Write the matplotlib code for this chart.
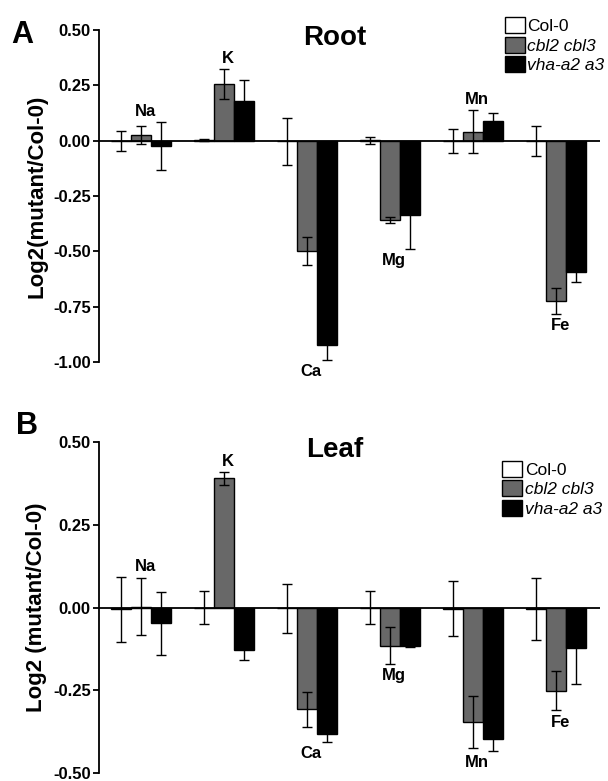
import matplotlib
matplotlib.use("Agg")
import matplotlib.pyplot as plt
import numpy as np

plt.rcParams['font.family'] = ['Liberation Sans', 'DejaVu Sans']

elements = ['Na', 'K', 'Ca', 'Mg', 'Mn', 'Fe']
genotypes = ['Col-0', 'cbl2 cbl3', 'vha-a2 a3']

# Root values (log2 mutant / Col-0) and errors
root_col0 = [0.0, 0.003, -0.003, 0.001, 0.0, -0.002]
root_col0_err = [0.045, 0.004, 0.105, 0.016, 0.054, 0.068]
root_cbl = [0.027, 0.258, -0.498, -0.357, 0.041, -0.724]
root_cbl_err = [0.040, 0.068, 0.063, 0.013, 0.097, 0.058]
root_vha = [-0.023, 0.181, -0.923, -0.335, 0.090, -0.593]
root_vha_err = [0.108, 0.095, 0.067, 0.154, 0.037, 0.045]

# Leaf values
leaf_col0 = [-0.005, 0.0, -0.002, 0.0, -0.003, -0.004]
leaf_col0_err = [0.098, 0.049, 0.074, 0.051, 0.082, 0.093]
leaf_cbl = [0.003, 0.390, -0.308, -0.115, -0.346, -0.251]
leaf_cbl_err = [0.087, 0.019, 0.053, 0.055, 0.078, 0.060]
leaf_vha = [-0.048, -0.128, -0.383, -0.115, -0.398, -0.121]
leaf_vha_err = [0.095, 0.030, 0.023, 0.005, 0.034, 0.110]

colors = ['white', '#686868', 'black']
width = 0.24


def draw_panel(ax, series, errs, ylim, yticks, title, ylabel):
    x = np.arange(len(elements))
    for j, (vals, err) in enumerate(zip(series, errs)):
        pos = x + (j - 1) * width
        ax.bar(pos, vals, width, color=colors[j], edgecolor='black',
               linewidth=1.0, label=genotypes[j], zorder=2)
        ax.errorbar(pos, vals, yerr=err, fmt='none', ecolor='black',
                    elinewidth=1.0, capsize=3.5, capthick=1.0, zorder=3)
    ax.axhline(0, color='black', linewidth=1.3, zorder=4)

    # element labels just beyond the extreme error bar of each group,
    # on the side the cbl2 cbl3 bar points to
    tops = np.max([np.array(v) + np.array(e) for v, e in zip(series, errs)], axis=0)
    bots = np.min([np.array(v) - np.array(e) for v, e in zip(series, errs)], axis=0)
    for i, el in enumerate(elements):
        if series[1][i] >= 0:
            ax.annotate(el, (i + 0.05, tops[i]), xytext=(0, 2),
                        textcoords='offset points', ha='center', va='bottom',
                        fontsize=12, fontweight='bold')
        else:
            ax.annotate(el, (i + 0.05, bots[i]), xytext=(0, -3),
                        textcoords='offset points', ha='center', va='top',
                        fontsize=12, fontweight='bold')

    ax.set_xlim(-0.506, 5.53)
    ax.set_ylim(*ylim)
    ax.set_yticks(yticks)
    ax.set_yticklabels(['%.2f' % t for t in yticks], fontsize=12, fontweight='bold')
    ax.set_xticks([])
    for s in ['top', 'right', 'bottom']:
        ax.spines[s].set_visible(False)
    ax.spines['left'].set_linewidth(1.3)
    ax.tick_params(axis='y', direction='out', length=4, width=1.3, pad=2)
    ax.set_ylabel(ylabel, fontsize=16, fontweight='bold', labelpad=4)
    ax.set_title(title, fontsize=20, fontweight='bold', x=0.47, y=0.93)


fig = plt.figure(figsize=(6.08, 7.81), dpi=100)
ax1 = fig.add_axes([0.163, 0.5365, 0.824, 0.4251])
ax2 = fig.add_axes([0.163, 0.0102, 0.824, 0.4238])

draw_panel(ax1, [root_col0, root_cbl, root_vha],
           [root_col0_err, root_cbl_err, root_vha_err],
           (-1.0, 0.5), [0.5, 0.25, 0.0, -0.25, -0.5, -0.75, -1.0],
           'Root', 'Log2(mutant/Col-0)')
draw_panel(ax2, [leaf_col0, leaf_cbl, leaf_vha],
           [leaf_col0_err, leaf_cbl_err, leaf_vha_err],
           (-0.5, 0.5), [0.5, 0.25, 0.0, -0.25, -0.5],
           'Leaf', 'Log2 (mutant/Col-0)')

for ax, anchor in [(ax1, (0.830, 0.978)), (ax2, (0.826, 0.410))]:
    leg = ax.legend(loc='upper left', bbox_to_anchor=anchor,
                    bbox_transform=fig.transFigure, frameon=False,
                    fontsize=12.5, handlelength=1.15, handleheight=1.05,
                    handletextpad=0.15, labelspacing=0.14, borderpad=0,
                    borderaxespad=0)
    for k, t in enumerate(leg.get_texts()):
        if k > 0:
            t.set_style('italic')

fig.text(0.018, 0.955, 'A', fontsize=22, fontweight='bold', va='center')
fig.text(0.027, 0.455, 'B', fontsize=22, fontweight='bold', va='center')

fig.savefig('out.png', dpi=100)
